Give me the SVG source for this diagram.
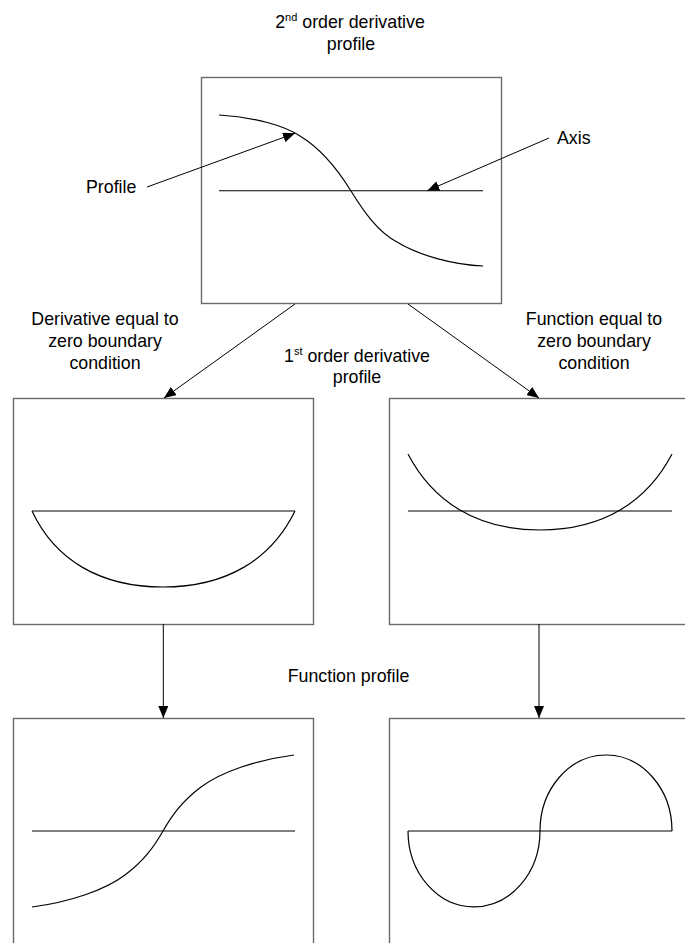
<svg xmlns="http://www.w3.org/2000/svg" width="685" height="943" viewBox="0 0 685 943">
<style>
text{font-family:"Liberation Sans",Arial,sans-serif;font-size:17.8px;fill:#000}
.c{text-anchor:middle}
.box{fill:#fff;stroke:#6a6a6a;stroke-width:1.4}
.axis{stroke:#000;stroke-width:1.1;fill:none}
.curve{stroke:#000;stroke-width:1.2;fill:none}
.conn{stroke:#000;stroke-width:1;fill:none;marker-end:url(#ah)}
</style>
<defs>
<marker id="ah" viewBox="0 0 12 10" refX="12" refY="5" markerWidth="12" markerHeight="10" markerUnits="userSpaceOnUse" orient="auto">
<path d="M0,0 L12,5 L0,10 Z" fill="#000"/>
</marker>
</defs>

<g id="title">
<text class="c" x="350" y="28">2<tspan font-size="11" dy="-7">nd</tspan><tspan dy="7"> order derivative</tspan></text>
<text class="c" x="351" y="50">profile</text>
</g>

<g id="node-second">
<rect class="box" x="201.5" y="77.5" width="300" height="226"/>
<line class="axis" x1="219" y1="190.7" x2="483" y2="190.7"/>
<path class="curve" d="M219,115 C255,117 285,126 300,136 C320,148 338,170 351,191"/>
<path class="curve" stroke-width="1.8" d="M351,191 C364,212 378,232 397,242 C420,256 455,265 483,266"/>
</g>

<g id="label-profile"><text x="86" y="193">Profile</text></g>
<g id="label-axis"><text x="557" y="144">Axis</text></g>

<g id="node-first-left">
<rect class="box" x="13.5" y="398.5" width="300" height="226"/>
<line class="axis" x1="32" y1="511" x2="295" y2="511"/>
<path class="curve" d="M32,511 C55,560 100,587 163,587 C226,587 271,560 295,511"/>
</g>

<g id="node-first-right">
<rect class="box" x="389.5" y="398.5" width="300" height="226"/>
<line class="axis" x1="408" y1="511" x2="672" y2="511"/>
<path class="curve" d="M408,454 C432,500 475,530 540,530 C605,530 648,500 672,454"/>
</g>

<g id="node-func-left">
<rect class="box" x="13.5" y="718.5" width="300" height="226"/>
<line class="axis" x1="32" y1="831" x2="295" y2="831"/>
<path class="curve" d="M32,907 C70,902 105,890 125,875 C145,860 155,845 163,831 C171,817 181,802 201,787 C221,772 256,760 294,755"/>
</g>

<g id="node-func-right">
<rect class="box" x="389.5" y="718.5" width="300" height="226"/>
<line class="axis" x1="408" y1="831" x2="672" y2="831"/>
<path class="curve" d="M408,831 A66,76 0 0 0 540,831 A66,76 0 0 1 672,831"/>
</g>

<g id="labels">
<text class="c" x="105" y="325.3">Derivative equal to</text>
<text class="c" x="105" y="347.3">zero boundary</text>
<text class="c" x="105" y="369.3">condition</text>
<text class="c" x="594" y="325.3">Function equal to</text>
<text class="c" x="594" y="347.3">zero boundary</text>
<text class="c" x="594" y="369.3">condition</text>
<text class="c" x="357" y="361.7">1<tspan font-size="11" dy="-7">st</tspan><tspan dy="7"> order derivative</tspan></text>
<text class="c" x="357" y="383">profile</text>
<text class="c" x="348.5" y="681.7">Function profile</text>
</g>

<g id="connectors">
<line class="conn" x1="147" y1="187" x2="295" y2="133.3"/>
<line class="conn" x1="549" y1="138" x2="427.3" y2="190.7"/>
<line class="conn" x1="295" y1="304" x2="164" y2="398"/>
<line class="conn" x1="408" y1="304" x2="539" y2="398"/>
<line class="conn" x1="163.3" y1="624" x2="163.3" y2="718"/>
<line class="conn" x1="539" y1="624" x2="539" y2="718"/>
</g>
</svg>
